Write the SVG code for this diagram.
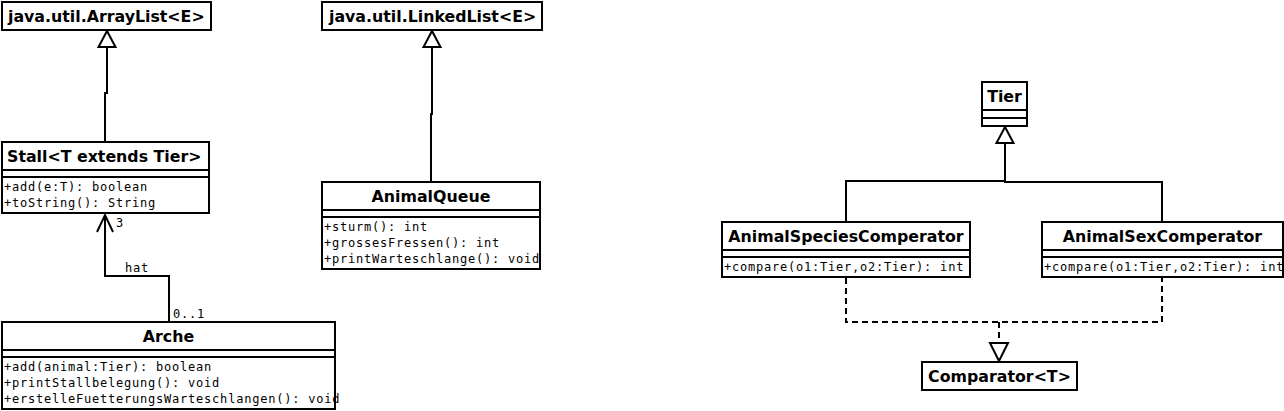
<svg xmlns="http://www.w3.org/2000/svg" width="1284" height="411" viewBox="0 0 1284 411">
  <style>
    .box { fill: #ffffff; stroke: #000000; stroke-width: 2; }
    .sep { stroke: #000000; stroke-width: 2; fill: none; }
    .title { font-family: "DejaVu Sans", "Liberation Sans", sans-serif; font-weight: bold; font-size: 15.8px; fill: #000000; }
    .mono { font-family: "DejaVu Sans Mono", "Liberation Mono", monospace; font-size: 12px; letter-spacing: 0.78px; fill: #000000; }
    .edge { stroke: #000000; stroke-width: 2; fill: none; }
    .dash { stroke: #000000; stroke-width: 2; fill: none; stroke-dasharray: 6 4; }
    .head { stroke: #000000; stroke-width: 2; fill: #ffffff; }
  </style>
  <rect width="1284" height="411" fill="#ffffff"/>

  <g id="connectors">
    <!-- Stall -> ArrayList generalization -->
    <path class="edge" d="M105,142 V93 H107 V47"/>
    <polygon class="head" points="107,31 98.5,47 115.5,47"/>
    <!-- AnimalQueue -> LinkedList generalization -->
    <path class="edge" d="M431,182 V114 H432 V47"/>
    <polygon class="head" points="432,31 423.5,47 440.5,47"/>
    <!-- Arche -> Stall association -->
    <path class="edge" d="M169,322 V276 H105 V215"/>
    <path class="edge" d="M97,232 L105,215 L113,232"/>
    <text class="mono" x="116" y="227">3</text>
    <text class="mono" x="125" y="272">hat</text>
    <text class="mono" x="173" y="318">0..1</text>
    <!-- Comperators -> Tier generalization -->
    <path class="edge" d="M846,222 V181 H1005"/>
    <path class="edge" d="M1162,222 V182 H1005 V143"/>
    <polygon class="head" points="1005,127 996.5,143 1013.5,143"/>
    <!-- Comperators -> Comparator realization -->
    <path class="dash" d="M846,278 V322 H1162 V278"/>
    <path class="dash" d="M999,322 V343"/>
    <polygon class="head" points="999,361 990,343 1008,343"/>
  </g>

  <g id="ArrayList">
    <rect class="box" x="2" y="2" width="209" height="28"/>
    <text class="title" x="8" y="21.5">java.util.ArrayList&lt;E&gt;</text>
  </g>

  <g id="LinkedList">
    <rect class="box" x="322" y="2" width="220" height="28"/>
    <text class="title" x="329" y="21.5">java.util.LinkedList&lt;E&gt;</text>
  </g>

  <g id="Stall">
    <rect class="box" x="2" y="142" width="207" height="71"/>
    <path class="sep" d="M2,170 H209 M2,177 H209"/>
    <text class="title" x="7" y="161.5">Stall&lt;T extends Tier&gt;</text>
    <text class="mono" x="4" y="191">+add(e:T): boolean</text>
    <text class="mono" x="4" y="207">+toString(): String</text>
  </g>

  <g id="AnimalQueue">
    <rect class="box" x="322" y="182" width="218" height="87"/>
    <path class="sep" d="M322,210 H540 M322,217 H540"/>
    <text class="title" x="431" y="201.5" text-anchor="middle">AnimalQueue</text>
    <text class="mono" x="324" y="231">+sturm(): int</text>
    <text class="mono" x="324" y="247">+grossesFressen(): int</text>
    <text class="mono" x="324" y="263">+printWarteschlange(): void</text>
  </g>

  <g id="Arche">
    <rect class="box" x="2" y="322" width="333" height="87"/>
    <path class="sep" d="M2,350 H335 M2,357 H335"/>
    <text class="title" x="168.5" y="341.5" text-anchor="middle">Arche</text>
    <text class="mono" x="4" y="371">+add(animal:Tier): boolean</text>
    <text class="mono" x="4" y="387">+printStallbelegung(): void</text>
    <text class="mono" x="4" y="403">+erstelleFuetterungsWarteschlangen(): void</text>
  </g>

  <g id="Tier">
    <rect class="box" x="982" y="82" width="45" height="44"/>
    <path class="sep" d="M982,110 H1027 M982,118 H1027"/>
    <text class="title" x="1004.5" y="101.5" text-anchor="middle">Tier</text>
  </g>

  <g id="AnimalSpeciesComperator">
    <rect class="box" x="722" y="222" width="248" height="55"/>
    <path class="sep" d="M722,250 H970 M722,257 H970"/>
    <text class="title" x="846" y="241.5" text-anchor="middle">AnimalSpeciesComperator</text>
    <text class="mono" x="724" y="271">+compare(o1:Tier,o2:Tier): int</text>
  </g>

  <g id="AnimalSexComperator">
    <rect class="box" x="1042" y="222" width="241" height="55"/>
    <path class="sep" d="M1042,250 H1283 M1042,257 H1283"/>
    <text class="title" x="1162.5" y="241.5" text-anchor="middle">AnimalSexComperator</text>
    <text class="mono" x="1044" y="271">+compare(o1:Tier,o2:Tier): int</text>
  </g>

  <g id="Comparator">
    <rect class="box" x="922" y="362" width="155" height="28"/>
    <text class="title" x="999.5" y="381.5" text-anchor="middle">Comparator&lt;T&gt;</text>
  </g>
</svg>
